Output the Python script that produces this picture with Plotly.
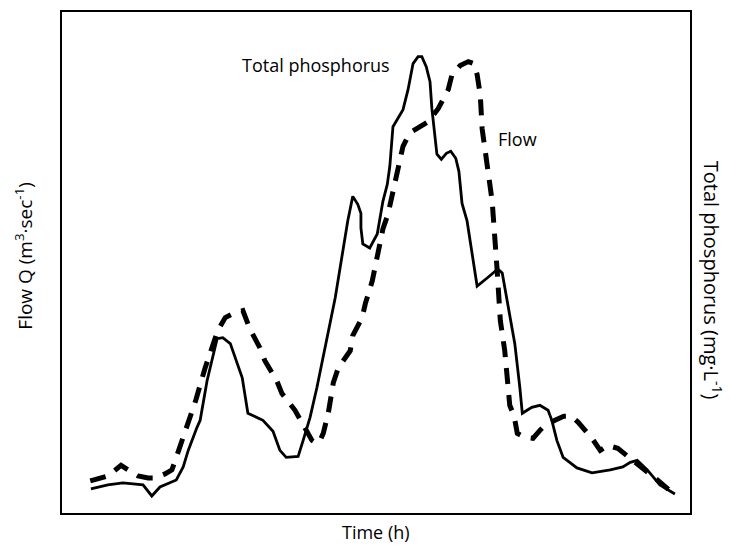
import plotly.graph_objects as go

# Total phosphorus (solid curve): time (h) and concentration
tp_time = [4.6, 7.3, 9.7, 12.9, 14.3, 15.6, 18.2, 19.3, 20.1, 20.5, 21.5, 22.0, 23.1, 24.7,
           25.6, 26.8, 28.7, 29.6, 32.0, 33.6, 34.7, 35.7, 37.6, 38.4, 39.5, 40.6, 42.2,
           43.5, 44.8, 45.5, 46.3, 47.1, 47.6, 47.6, 47.9, 49.0, 50.2, 51.1, 51.8, 52.2,
           52.7, 53.3, 54.3, 55.1, 55.9, 56.7, 57.3, 58.0, 58.6, 58.9, 59.4, 59.7, 60.4,
           61.2, 61.9, 62.7, 63.2, 63.7, 64.5, 65.3, 66.1, 67.7, 69.4, 70.1, 71.0, 72.1,
           72.9, 73.3, 74.8, 76.1, 77.4, 78.0, 78.8, 79.8, 82.0, 84.4, 87.3, 89.3, 90.5,
           91.6, 93.2, 95.2, 97.6]
tp_value = [4.8, 5.6, 6.0, 5.6, 3.4, 5.2, 6.6, 9.2, 12.5, 13.9, 17.1, 18.5, 26.4, 34.8,
            35.0, 33.8, 27.0, 19.9, 18.5, 16.3, 12.5, 11.1, 11.3, 14.5, 19.1, 25.1, 35.0,
            42.9, 52.9, 58.3, 63.2, 61.6, 59.8, 56.9, 53.7, 52.9, 55.7, 62.2, 65.6, 69.2,
            77.1, 78.3, 80.5, 84.5, 89.7, 91.1, 91.1, 89.1, 86.1, 80.7, 74.2, 71.6, 70.6,
            71.8, 72.2, 70.8, 68.2, 61.8, 58.3, 51.7, 45.3, 46.9, 48.7, 47.9, 41.8, 33.8,
            25.1, 19.9, 21.1, 21.5, 20.5, 18.5, 14.5, 11.1, 9.0, 8.0, 8.6, 9.2, 10.1,
            10.5, 8.6, 5.6, 3.8]

# Flow Q (dashed curve): time (h) and discharge
q_time = [4.5, 7.3, 9.4, 10.2, 12.1, 13.7, 14.8, 16.4, 17.5, 18.2, 19.3, 20.1, 21.3, 22.8,
          23.9, 24.8, 26.0, 27.6, 28.8, 29.9, 31.5, 32.3, 34.2, 35.0, 37.1, 38.2, 39.8,
          40.5, 41.1, 41.6, 42.4, 43.2, 44.0, 45.9, 46.3, 47.8, 48.3, 49.4, 50.3, 51.1,
          51.9, 52.7, 53.5, 54.3, 55.1, 55.7, 58.3, 59.9, 61.5, 62.1, 63.4, 64.7, 65.6,
          66.1, 66.6, 66.9, 67.4, 67.8, 68.5, 69.3, 69.8, 70.5, 70.9, 71.3, 72.0, 72.5,
          73.7, 75.0, 76.1, 76.9, 78.5, 79.9, 81.1, 82.2, 83.3, 84.4, 85.7, 86.9, 88.5,
          89.7, 90.8, 93.6, 94.8, 97.6]
q_value = [6.4, 7.4, 9.5, 8.8, 7.4, 7.0, 7.0, 7.8, 8.6, 11.1, 15.1, 17.9, 22.5, 29.0,
           33.0, 36.4, 39.0, 40.0, 40.4, 36.8, 33.0, 30.4, 26.4, 23.9, 20.5, 17.9, 14.5,
           13.9, 14.5, 15.9, 19.9, 26.0, 29.0, 32.4, 35.4, 39.0, 41.8, 46.3, 52.3, 56.7,
           59.6, 64.2, 68.8, 73.2, 75.2, 76.1, 78.1, 80.7, 84.5, 87.5, 89.3, 90.1, 89.7,
           87.5, 83.5, 76.7, 72.2, 68.8, 62.2, 48.3, 38.4, 32.4, 25.8, 21.5, 19.3, 15.9,
           15.1, 14.9, 16.5, 17.5, 18.5, 19.3, 19.3, 18.1, 16.5, 14.9, 12.5, 13.5, 12.9,
           11.7, 10.5, 8.0, 6.6, 3.6]

FONT = "Open Sans"

fig = go.Figure()
fig.add_trace(go.Scatter(
    x=q_time, y=q_value, mode="lines", name="Flow",
    line=dict(color="black", width=5, dash="16px,11px"),
    yaxis="y",
))
fig.add_trace(go.Scatter(
    x=tp_time, y=tp_value, mode="lines", name="Total phosphorus",
    line=dict(color="black", width=2.8),
    yaxis="y2",
))

axis_common = dict(showticklabels=False, ticks="", showgrid=False, zeroline=False)
fig.update_layout(
    width=733, height=546,
    margin=dict(l=62, r=43, t=10, b=33),
    paper_bgcolor="white", plot_bgcolor="white",
    showlegend=False,
    font=dict(family=FONT, size=18, color="black"),
    xaxis=dict(range=[0, 100], showline=True, mirror=True, linecolor="black",
               linewidth=2, **axis_common),
    yaxis=dict(range=[0, 100], showline=True, mirror=True, linecolor="black",
               linewidth=2, **axis_common),
    yaxis2=dict(range=[0, 100], overlaying="y", side="right", showline=False,
                **axis_common),
    annotations=[
        dict(text="Time (h)", xref="paper", yref="paper", x=0.5, y=-0.038,
             showarrow=False, xanchor="center", yanchor="middle"),
        dict(text="Flow Q (m<sup>3</sup>·sec<sup>-1</sup>)", xref="paper", yref="paper",
             x=-0.061, y=0.513, textangle=-90, showarrow=False,
             xanchor="center", yanchor="middle", font=dict(size=19)),
        dict(text="Total phosphorus (mg·L<sup>-1</sup>)", xref="paper", yref="paper",
             x=1.037, y=0.465, textangle=90, showarrow=False,
             xanchor="center", yanchor="middle", font=dict(size=20)),
        dict(text="Total phosphorus", xref="paper", yref="paper", x=0.404, y=0.895,
             showarrow=False, xanchor="center", yanchor="middle"),
        dict(text="Flow", xref="paper", yref="paper", x=0.725, y=0.747,
             showarrow=False, xanchor="center", yanchor="middle"),
    ],
)

fig.write_html("out.html")
